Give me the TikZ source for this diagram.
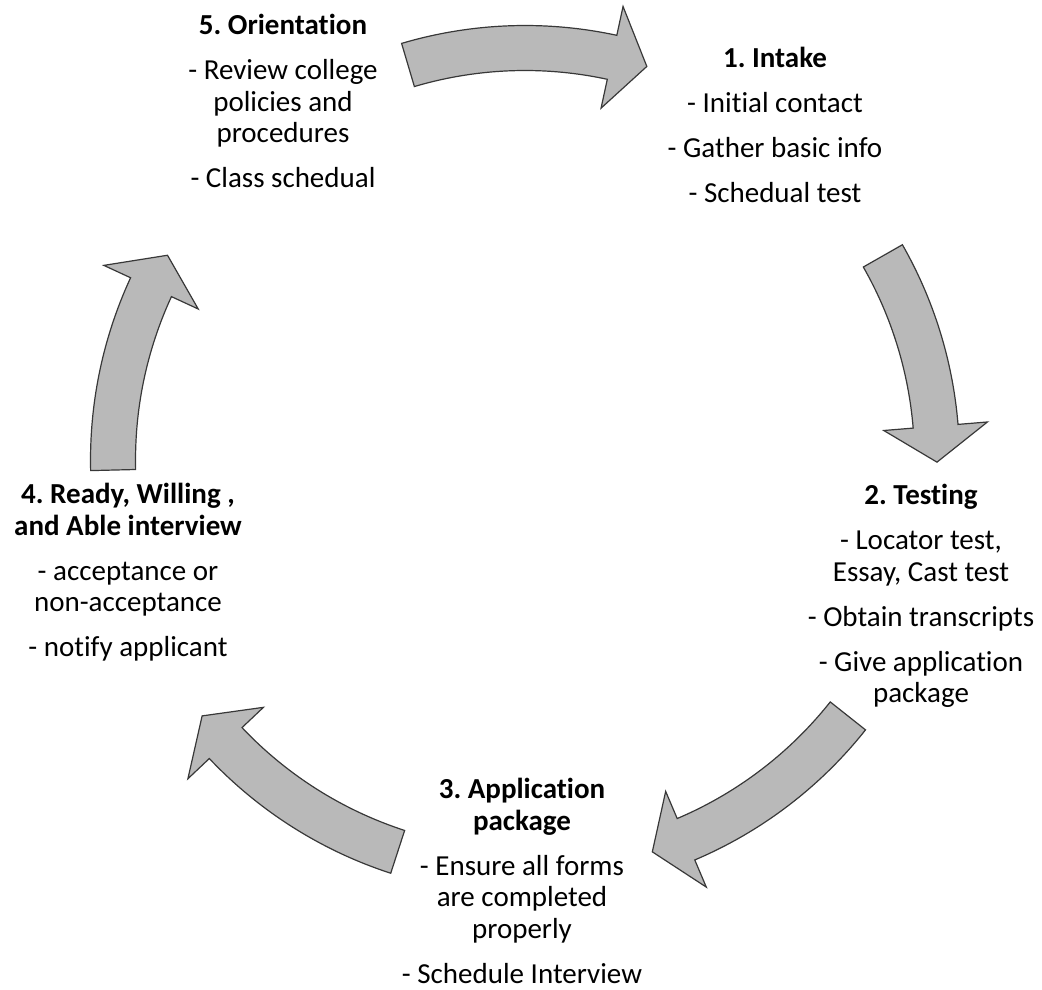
\documentclass[tikz,border=0pt]{standalone}
\usepackage{fontspec}
\setmainfont[Ligatures={NoCommon}]{Carlito}
\usetikzlibrary{calc}
\definecolor{arrowgray}{HTML}{B9B9B9}
\definecolor{arrowedge}{HTML}{383838}
\definecolor{stagetext}{HTML}{000000}

\begin{document}
\frenchspacing
\begin{tikzpicture}[x=1pt, y=1pt,
  stage/.style={anchor=north, align=center, inner sep=0pt, text=stagetext,
    font=\fontsize{29}{31.5}\selectfont},
  cycarrow/.style={fill=arrowgray, draw=arrowedge, line width=1.2pt, line join=miter}]
\useasboundingbox (0,0) rectangle (1042,989);
\coordinate (c) at (525,529);
% the five stages
\node[stage] (intake) at (775,942) {\textbf{1. Intake}\\[13.5pt]
  - Initial contact\\[13.5pt] - Gather basic info\\[13.5pt] - Schedual test};
\node[stage] (testing) at (921,505) {\textbf{2. Testing}\\[13.5pt]
  - Locator test,\\ Essay, Cast test\\[13.5pt] - Obtain transcripts\\[13.5pt]
  - Give application\\ package};
\node[stage] (application) at (522,211) {\textbf{3. Application}\\ \textbf{package}\\[13.5pt]
  - Ensure all forms\\ are completed\\ properly\\[13.5pt] - Schedule Interview};
\node[stage] (interview) at (128,506) {\textbf{4. Ready, Willing ,}\\ \textbf{and Able interview}\\[13.5pt]
  - acceptance or\\ non-acceptance\\[13.5pt] - notify applicant};
\node[stage] (orientation) at (283,975) {\textbf{5. Orientation}\\[13.5pt]
  - Review college\\ policies and\\ procedures\\[13.5pt] - Class schedual};
% curved arrows round the cycle: tail angle / tip angle
\foreach \a/\b in {106.5/72.8, 29.7/-0.3, -38.4/-72, 252/218.4, 181.4/150.2}{
  \pgfmathsetmacro\h{\b+5}
  \draw[cycarrow] ($(c)+(\a:434.5)$) arc[start angle=\a, end angle=\h, radius=434.5]
    -- ($(c)+(\h:464)$) -- ($(c)+(\b:412)$) -- ($(c)+(\h:360)$)
    -- ($(c)+(\h:389.5)$) arc[start angle=\h, end angle=\a, radius=389.5] -- cycle;
}
\end{tikzpicture}
\end{document}
